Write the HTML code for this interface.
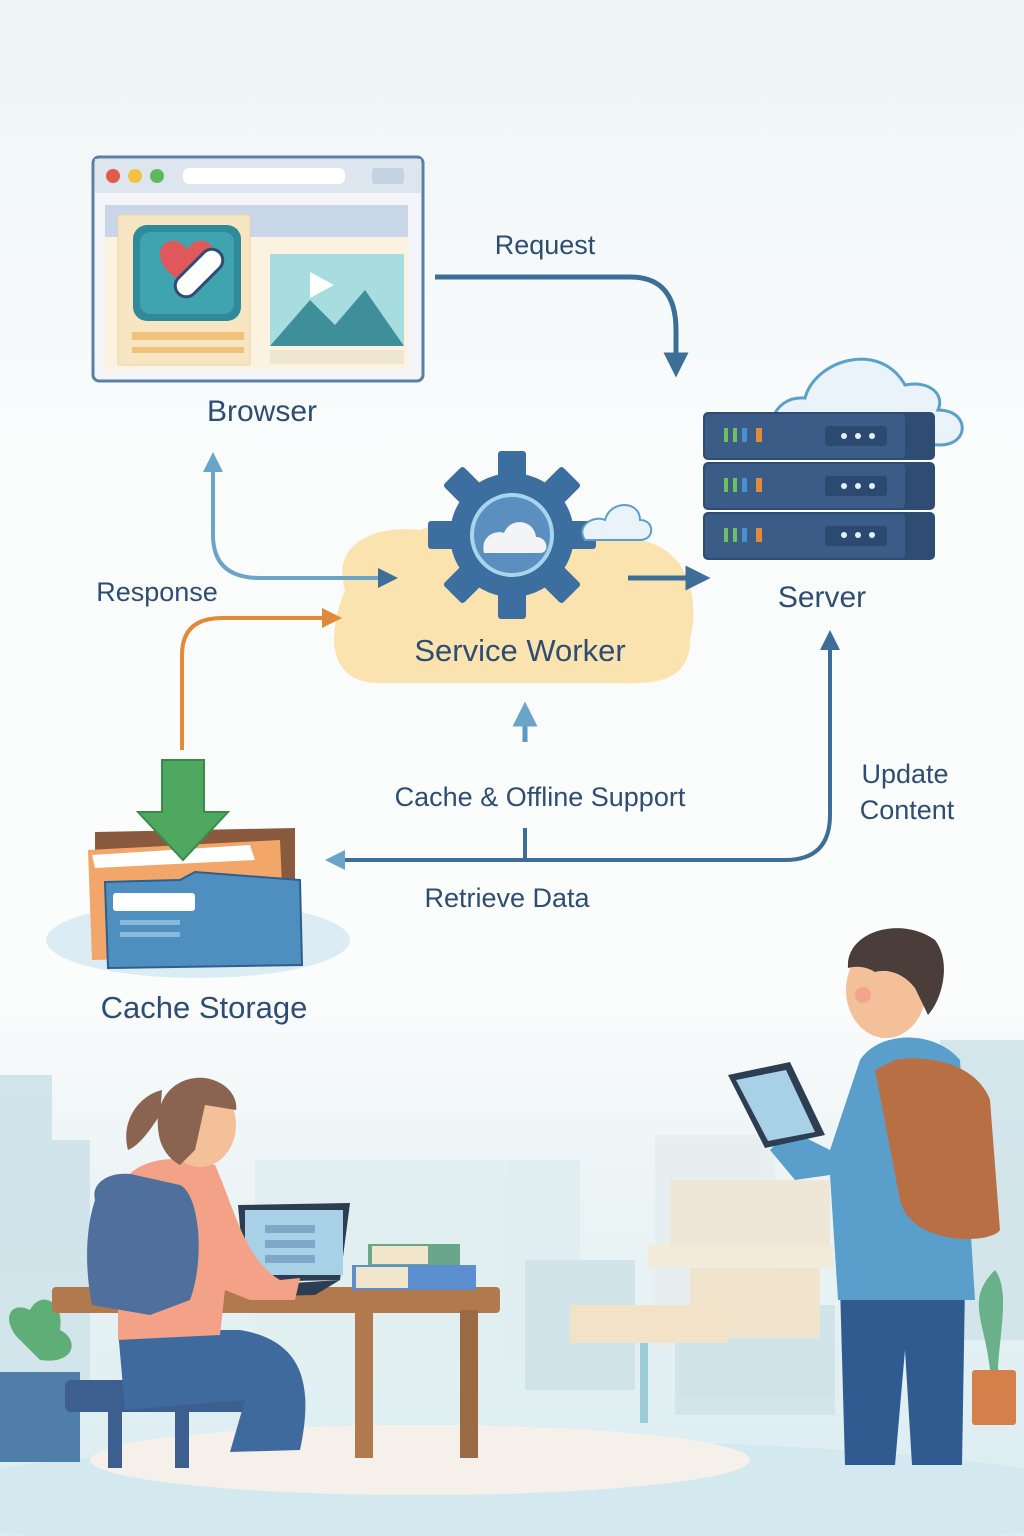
<!DOCTYPE html>
<html><head><meta charset="utf-8"><style>
html,body{margin:0;padding:0;width:1024px;height:1536px;overflow:hidden;background:#f5f9fa}
svg{display:block}
text{font-family:"Liberation Sans",sans-serif;fill:#2d4d73}
</style></head><body>
<svg width="1024" height="1536" viewBox="0 0 1024 1536" xmlns="http://www.w3.org/2000/svg">
<defs>
<linearGradient id="bg" x1="0" y1="0" x2="0" y2="1">
<stop offset="0" stop-color="#eef5f6"/><stop offset="0.3" stop-color="#fafcfc"/><stop offset="0.65" stop-color="#fbfcfc"/><stop offset="0.75" stop-color="#eef5f6"/><stop offset="1" stop-color="#d9ecf0"/>
</linearGradient>
<marker id="ab" viewBox="0 0 10 10" refX="5" refY="5" markerWidth="5" markerHeight="5" orient="auto-start-reverse"><path d="M0,0 L10,5 L0,10 z" fill="#3d6e98"/></marker>
<marker id="al" viewBox="0 0 10 10" refX="5" refY="5" markerWidth="5" markerHeight="5" orient="auto-start-reverse"><path d="M0,0 L10,5 L0,10 z" fill="#6aa5c8"/></marker>
<marker id="ao" viewBox="0 0 10 10" refX="5" refY="5" markerWidth="5" markerHeight="5" orient="auto-start-reverse"><path d="M0,0 L10,5 L0,10 z" fill="#e08a3a"/></marker>
</defs>
<rect width="1024" height="1536" fill="url(#bg)"/>

<!-- city background -->
<g fill="#cfe3ea" opacity="0.9">
<rect x="0" y="1075" width="52" height="170"/><rect x="0" y="1140" width="90" height="250"/>
<rect x="255" y="1160" width="325" height="200" fill="#e0eef1"/>
<rect x="655" y="1135" width="120" height="220" fill="#e6eef0"/>
<rect x="525" y="1260" width="110" height="130"/>
<rect x="675" y="1305" width="160" height="110"/>
<rect x="940" y="1040" width="84" height="300"/>
</g>
<rect x="670" y="1180" width="160" height="70" fill="#eee6d6"/>
<rect x="648" y="1245" width="185" height="22" fill="#f3ead8"/>
<rect x="690" y="1268" width="130" height="70" fill="#f1e4cc"/>
<rect x="570" y="1305" width="158" height="38" fill="#f1e2c8"/>
<rect x="640" y="1343" width="8" height="80" fill="#9ccbd9"/>
<ellipse cx="512" cy="1500" rx="600" ry="60" fill="#d3e9ef"/>
<ellipse cx="420" cy="1460" rx="330" ry="35" fill="#f5f1ea"/>

<!-- Browser -->
<rect x="93" y="157" width="330" height="224" rx="6" fill="#f3f5f8" stroke="#5b7fa8" stroke-width="3"/>
<rect x="95" y="159" width="326" height="34" fill="#dde5ef"/>
<circle cx="113" cy="176" r="7" fill="#e15b4c"/><circle cx="135" cy="176" r="7" fill="#f2c240"/><circle cx="157" cy="176" r="7" fill="#5fb85c"/>
<rect x="183" y="168" width="162" height="16" rx="6" fill="#fff"/>
<rect x="372" y="168" width="32" height="16" rx="3" fill="#c4d2e2"/>
<rect x="105" y="205" width="303" height="165" fill="#fbf3e0"/>
<rect x="105" y="205" width="303" height="32" fill="#c9d6e8"/>
<rect x="118" y="215" width="132" height="150" fill="#f8e6c2" stroke="#e6d4b0"/>
<rect x="133" y="225" width="108" height="96" rx="14" fill="#2f8a9a"/>
<rect x="140" y="232" width="94" height="82" rx="10" fill="#3fa3b0"/>
<path d="M187,250 c-8,-16 -32,-10 -26,10 c4,12 18,20 26,28 c8,-8 22,-16 26,-28 c6,-20 -18,-26 -26,-10z" fill="#e0585a"/>
<rect x="170" y="262" width="58" height="22" rx="11" transform="rotate(-45 199 273)" fill="#fff" stroke="#2d4d73" stroke-width="3"/>
<rect x="132" y="332" width="112" height="8" fill="#f1c27b"/><rect x="132" y="347" width="112" height="6" fill="#f1c27b"/>
<rect x="270" y="254" width="134" height="92" fill="#a8dde0"/>
<path d="M270,346 L310,300 L335,325 L365,290 L404,346z" fill="#3f8f9a"/>
<path d="M310,272 L334,285 L310,298z" fill="#fff"/>
<rect x="270" y="350" width="134" height="14" fill="#efe6d0"/>
<text x="262" y="421" font-size="30" text-anchor="middle">Browser</text>

<!-- Request -->
<text x="545" y="254" font-size="27" text-anchor="middle">Request</text>
<path d="M435,277 L630,277 Q676,277 676,330 L676,365" fill="none" stroke="#3d6e98" stroke-width="5" marker-end="url(#ab)"/>

<!-- Server -->
<g fill="#eaf3f9" stroke="#5ba0c8" stroke-width="3">
<path d="M790,440 C760,440 770,395 805,398 C815,360 880,340 905,385 C930,380 945,395 938,410 C970,410 970,445 940,445 Z"/>
</g>
<g>
<rect x="703" y="412" width="232" height="48" rx="5" fill="#2f4d73"/>
<rect x="703" y="462" width="232" height="48" rx="5" fill="#2f4d73"/>
<rect x="703" y="512" width="232" height="48" rx="5" fill="#2f4d73"/>
<rect x="705" y="414" width="200" height="44" rx="4" fill="#3a5c86"/>
<rect x="705" y="464" width="200" height="44" rx="4" fill="#3a5c86"/>
<rect x="705" y="514" width="200" height="44" rx="4" fill="#3a5c86"/>
<g fill="#e6f0f8">
<rect x="825" y="426" width="62" height="20" rx="3" fill="#2c4a70"/><rect x="825" y="476" width="62" height="20" rx="3" fill="#2c4a70"/><rect x="825" y="526" width="62" height="20" rx="3" fill="#2c4a70"/>
<circle cx="844" cy="436" r="3"/><circle cx="858" cy="436" r="3"/><circle cx="872" cy="436" r="3"/>
<circle cx="844" cy="486" r="3"/><circle cx="858" cy="486" r="3"/><circle cx="872" cy="486" r="3"/>
<circle cx="844" cy="535" r="3"/><circle cx="858" cy="535" r="3"/><circle cx="872" cy="535" r="3"/>
</g>
<g><rect x="724" y="428" width="4" height="14" fill="#6cc060"/><rect x="733" y="428" width="4" height="14" fill="#6cc060"/><rect x="742" y="428" width="5" height="14" fill="#4a8fd0"/><rect x="756" y="428" width="6" height="14" fill="#e08a3a"/>
<rect x="724" y="478" width="4" height="14" fill="#6cc060"/><rect x="733" y="478" width="4" height="14" fill="#6cc060"/><rect x="742" y="478" width="5" height="14" fill="#4a8fd0"/><rect x="756" y="478" width="6" height="14" fill="#e08a3a"/>
<rect x="724" y="528" width="4" height="14" fill="#6cc060"/><rect x="733" y="528" width="4" height="14" fill="#6cc060"/><rect x="742" y="528" width="5" height="14" fill="#4a8fd0"/><rect x="756" y="528" width="6" height="14" fill="#e08a3a"/></g>
</g>
<text x="822" y="607" font-size="30" text-anchor="middle">Server</text>

<!-- Service worker -->
<path d="M345,590 C330,540 380,525 420,530 C440,520 600,515 640,540 C690,550 700,600 690,640 C690,690 640,683 600,683 L380,683 C330,683 325,640 345,590Z" fill="#fbe3b0"/>
<g transform="translate(512,535)" fill="#3d6ea0">
<rect x="-14" y="-84" width="28" height="30" rx="3"/>
<rect x="-14" y="-84" width="28" height="30" rx="3" transform="rotate(45)"/>
<rect x="-14" y="-84" width="28" height="30" rx="3" transform="rotate(90)"/>
<rect x="-14" y="-84" width="28" height="30" rx="3" transform="rotate(135)"/>
<rect x="-14" y="-84" width="28" height="30" rx="3" transform="rotate(180)"/>
<rect x="-14" y="-84" width="28" height="30" rx="3" transform="rotate(225)"/>
<rect x="-14" y="-84" width="28" height="30" rx="3" transform="rotate(270)"/>
<rect x="-14" y="-84" width="28" height="30" rx="3" transform="rotate(315)"/>
<circle r="62"/>
<circle r="40" fill="#5a8fc0" stroke="#a8d4ec" stroke-width="4"/>
<path d="M-28,18 C-32,0 -15,-5 -8,-2 C-2,-18 22,-16 24,2 C36,2 38,18 28,18Z" fill="#f2f4f6"/>
</g>
<path d="M585,540 C575,525 595,515 605,520 C610,500 640,500 640,520 C655,520 655,540 640,540Z" fill="#eaf3f9" stroke="#5ba0c8" stroke-width="2"/>
<text x="520" y="661" font-size="31" text-anchor="middle">Service Worker</text>
<path d="M628,578 L698,578" stroke="#3d6e98" stroke-width="5" marker-end="url(#ab)"/>

<!-- browser<->sw -->
<path d="M213,462 L213,535 Q213,578 260,578 L388,578" fill="none" stroke="#6aa5c8" stroke-width="4" marker-start="url(#al)" marker-end="url(#ab)"/>
<text x="157" y="601" font-size="27" text-anchor="middle">Response</text>
<path d="M182,750 L182,655 Q182,618 222,618 L332,618" fill="none" stroke="#e08a3a" stroke-width="4" marker-end="url(#ao)"/>

<!-- cache offline -->
<path d="M525,742 L525,714" stroke="#5a9ac0" stroke-width="5" marker-end="url(#al)"/>
<text x="540" y="806" font-size="27" text-anchor="middle">Cache &amp; Offline Support</text>
<path d="M830,640 L830,815 Q830,860 785,860 L335,860" fill="none" stroke="#3d6e98" stroke-width="4" marker-start="url(#ab)" marker-end="url(#al)"/>
<path d="M525,828 L525,860" stroke="#3d6e98" stroke-width="4"/>
<text x="905" y="783" font-size="27" text-anchor="middle">Update</text>
<text x="907" y="819" font-size="27" text-anchor="middle">Content</text>
<text x="507" y="907" font-size="27" text-anchor="middle">Retrieve Data</text>

<!-- cache storage -->
<ellipse cx="198" cy="940" rx="152" ry="38" fill="#dcecf5"/>
<path d="M95,832 L295,828 L295,940 L95,940Z" fill="#8a5a3e"/>
<path d="M88,850 L280,840 L285,955 L92,960Z" fill="#f2a66a"/>
<path d="M92,855 L250,845 L255,860 L95,868Z" fill="#fff"/>
<path d="M105,882 L180,880 L195,872 L300,880 L302,965 L108,968Z" fill="#4f8fc0" stroke="#2f5e8a" stroke-width="2"/>
<rect x="113" y="893" width="82" height="18" rx="3" fill="#fff"/>
<rect x="120" y="920" width="60" height="5" fill="#8ab8da"/><rect x="120" y="932" width="60" height="5" fill="#8ab8da"/>
<path d="M162,760 L204,760 L204,812 L228,812 L183,860 L138,812 L162,812Z" fill="#4fa860" stroke="#3a8a4c" stroke-width="2"/>
<text x="204" y="1018" font-size="31" text-anchor="middle">Cache Storage</text>

<!-- plant left -->
<path d="M20,1340 C0,1320 10,1300 30,1310 C40,1290 65,1300 60,1330 C80,1340 75,1365 40,1360Z" fill="#5fae78"/>
<rect x="0" y="1372" width="80" height="90" fill="#4f7fa8"/>

<!-- desk -->
<rect x="52" y="1287" width="448" height="26" rx="4" fill="#b07a4e"/>
<rect x="355" y="1310" width="18" height="148" fill="#b07a4e"/>
<rect x="460" y="1310" width="18" height="148" fill="#9a6a44"/>
<rect x="368" y="1244" width="92" height="22" fill="#6aa78a"/><rect x="372" y="1246" width="56" height="18" fill="#f1e6cc"/>
<rect x="352" y="1265" width="124" height="25" fill="#5b8fd0"/><rect x="356" y="1267" width="52" height="21" fill="#f1e6cc"/>
<path d="M238,1205 L350,1203 L340,1280 L245,1282Z" fill="#2d3d52"/>
<rect x="245" y="1210" width="98" height="65" fill="#a8d0e6"/>
<rect x="265" y="1225" width="50" height="8" fill="#7fa8c8"/><rect x="265" y="1240" width="50" height="8" fill="#7fa8c8"/><rect x="265" y="1255" width="50" height="8" fill="#7fa8c8"/>
<path d="M262,1285 L340,1280 L315,1295 L270,1296Z" fill="#2d3d52"/>
<!-- girl -->
<rect x="65" y="1380" width="205" height="32" rx="6" fill="#3d5f8f"/>
<rect x="108" y="1410" width="14" height="58" fill="#3d5f8f"/><rect x="175" y="1410" width="14" height="58" fill="#3d5f8f"/>
<path d="M118,1330 L240,1330 C300,1340 315,1380 300,1450 L230,1452 L245,1400 L125,1410Z" fill="#3f6a9e"/>
<path d="M118,1200 C120,1170 150,1155 190,1160 L215,1165 C235,1210 245,1260 280,1280 L300,1278 L295,1300 L250,1300 L225,1290 L220,1335 L118,1340Z" fill="#f3a187"/>
<ellipse cx="200" cy="1125" rx="36" ry="42" fill="#f4c09a"/>
<path d="M160,1140 C150,1100 175,1075 205,1078 C230,1082 238,1100 236,1110 L205,1105 L195,1150 L180,1165 C170,1160 163,1150 160,1140Z" fill="#8a6450"/>
<path d="M162,1090 C140,1095 120,1120 128,1150 C140,1145 150,1130 160,1115Z" fill="#8a6450"/>
<path d="M95,1200 C90,1180 115,1170 135,1175 L180,1185 C200,1195 205,1260 190,1300 L150,1315 L92,1305 C85,1270 85,1230 95,1200Z" fill="#4f6f9c"/>
<!-- man -->
<path d="M840,1285 L965,1285 L962,1465 L912,1465 L905,1350 L895,1465 L845,1465Z" fill="#2f5b90"/>
<path d="M860,1060 C880,1030 935,1030 960,1060 L975,1300 L838,1300 L830,1175 L795,1180 L770,1150 L790,1130 L830,1150Z" fill="#5a9fcc"/>
<ellipse cx="886" cy="990" rx="40" ry="48" fill="#f4c09a"/>
<circle cx="863" cy="995" r="8" fill="#ef9a8a" opacity="0.7"/>
<path d="M848,968 C845,932 900,915 935,940 C952,962 942,1000 928,1015 L915,988 C905,975 890,968 875,972 C865,966 855,966 848,968Z" fill="#4a3d3a"/>
<path d="M895,1060 C920,1055 975,1060 990,1100 L1000,1230 C990,1245 910,1245 900,1200 L875,1070Z" fill="#b86f44"/>
<path d="M728,1075 L790,1062 L825,1135 L765,1148Z" fill="#2d3d52"/>
<path d="M736,1080 L786,1070 L815,1132 L768,1141Z" fill="#a8d0e6"/>
<!-- plant right -->
<path d="M995,1270 C1010,1290 1000,1330 998,1370 L990,1370 C985,1320 965,1300 995,1270Z" fill="#6ab08a"/>
<rect x="972" y="1370" width="44" height="55" rx="3" fill="#d5804a"/>
</svg>
</body></html>
